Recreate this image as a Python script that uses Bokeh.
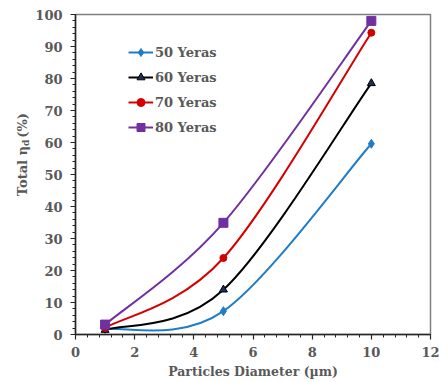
from bokeh.plotting import figure
from bokeh.layouts import row
from bokeh.models import Range1d, ColumnDataSource, Legend, LegendItem, FixedTicker
from bokeh.core.properties import value
from bokeh.embed import file_html
from bokeh.resources import INLINE

# ---- data ----
diameters = [1, 5, 10]
eff_50 = [1.7, 7.3, 59.6]
eff_60 = [1.4, 14.0, 78.5]
eff_70 = [2.1, 23.9, 94.3]
eff_80 = [3.1, 34.9, 98.0]
series_names = ["50 Yeras", "60 Yeras", "70 Yeras", "80 Yeras"]
x_ticks = [0, 2, 4, 6, 8, 10, 12]
y_ticks = [0, 10, 20, 30, 40, 50, 60, 70, 80, 90, 100]
x_label = "Particles Diameter (µm)"
y_label_parts = ["Total η", "d", "(%)"]

# ---- styling ----
FONT = "DejaVu Serif"
TXT = "#595959"
line_colors = ["#1f7dc8", "#000000", "#d40000", "#7030a0"]
fill_colors = ["#1f7dc8", "#1f2d5a", "#d40000", "#7030a0"]
markers = ["diamond", "triangle", "circle", "square"]
msizes = [9, 8, 7, 9]

W, H = 439, 382
LW = 31  # width of the side panel holding the y-axis title
# frame in page pixels
FL, FR, FT, FB = 75, 430, 14, 334
X0, X1, Y0, Y1 = 0, 12, 0, 100

p = figure(width=W - LW, height=H, output_backend="svg", toolbar_location=None,
           x_range=Range1d(X0, X1), y_range=Range1d(Y0, Y1),
           min_border_left=FL - LW, min_border_right=W - FR,
           min_border_top=FT, min_border_bottom=H - FB)
p.xgrid.visible = False
p.ygrid.visible = False
p.outline_line_color = "#7f7f7f"
p.outline_line_width = 1.5
p.background_fill_color = "white"
p.border_fill_color = "white"

for ax, ticks in ((p.xaxis, x_ticks), (p.yaxis, y_ticks)):
    step = ticks[1] - ticks[0]
    ax.ticker = FixedTicker(ticks=ticks,
                            minor_ticks=[ticks[0] + k * step / 5
                                         for k in range(0, 5 * (len(ticks) - 1) + 1)])
    ax.axis_line_color = "#262626"
    ax.axis_line_width = 1.5
    ax.major_tick_line_color = "#262626"
    ax.minor_tick_line_color = "#262626"
    ax.major_tick_line_width = 1.2
    ax.major_tick_in = 0
    ax.major_tick_out = 5
    ax.minor_tick_in = 0
    ax.minor_tick_out = 3
    ax.major_label_text_font = FONT
    ax.major_label_text_font_style = "bold"
    ax.major_label_text_font_size = "13px"
    ax.major_label_text_color = TXT
p.yaxis.major_label_standoff = 8
p.xaxis.major_label_standoff = 7

p.xaxis.axis_label = x_label
p.xaxis.axis_label_text_font = FONT
p.xaxis.axis_label_text_font_style = "bold"
p.xaxis.axis_label_text_font_size = "12.5px"
p.xaxis.axis_label_text_color = TXT
p.xaxis.axis_label_standoff = 4


def bezier_segments(xs, ys, t=1.0 / 6.0):
    n = len(xs)
    d = dict(x0=[], y0=[], x1=[], y1=[], cx0=[], cy0=[], cx1=[], cy1=[])
    for i in range(n - 1):
        xp, yp = (xs[i - 1], ys[i - 1]) if i > 0 else (xs[i], ys[i])
        xn, yn = (xs[i + 2], ys[i + 2]) if i + 2 < n else (xs[i + 1], ys[i + 1])
        d["x0"].append(xs[i]); d["y0"].append(ys[i])
        d["x1"].append(xs[i + 1]); d["y1"].append(ys[i + 1])
        d["cx0"].append(xs[i] + (xs[i + 1] - xp) * t)
        d["cy0"].append(ys[i] + (ys[i + 1] - yp) * t)
        d["cx1"].append(xs[i + 1] - (xn - xs[i]) * t)
        d["cy1"].append(ys[i + 1] - (yn - ys[i]) * t)
    return ColumnDataSource(d)


items = []
for name, ys, lc, fc, mk, ms in zip(series_names, [eff_50, eff_60, eff_70, eff_80],
                                    line_colors, fill_colors, markers, msizes):
    src = bezier_segments(diameters, ys)
    rb = p.bezier(x0="x0", y0="y0", x1="x1", y1="y1", cx0="cx0", cy0="cy0",
                  cx1="cx1", cy1="cy1", source=src, line_color=lc, line_width=2)
    rs = p.scatter(diameters, ys, marker=mk, size=ms, fill_color=fc, line_color=lc,
                   line_width=1)
    items.append(LegendItem(label=name, renderers=[rb, rs]))

legend = Legend(items=items, location=(53, 197), padding=0, margin=0,
                spacing=5, glyph_width=25, glyph_height=20, label_height=20,
                label_standoff=2, border_line_alpha=0, background_fill_alpha=0,
                label_text_font=FONT, label_text_font_style="bold",
                label_text_font_size="13px", label_text_color=TXT)
p.add_layout(legend, "center")

# ---- side panel with the y-axis title "Total η_d (%)" ----
q = figure(width=LW, height=H, output_backend="svg", toolbar_location=None,
           x_range=Range1d(0, LW), y_range=Range1d(0, H),
           min_border=0, x_axis_location=None, y_axis_location=None)
q.xgrid.visible = False
q.ygrid.visible = False
q.outline_line_color = None
q.background_fill_color = "white"
q.border_fill_color = "white"
txt = dict(text_font=value(FONT), text_font_style="bold", text_color=TXT,
           angle=1.5708, text_baseline="middle")
q.text(x=[22], y=[H - 157], text=[y_label_parts[0]], text_align="right",
       text_font_size="13px", **txt)
q.text(x=[25.5], y=[H - 157], text=[y_label_parts[1]], text_align="left",
       text_font_size="9px", **txt)
q.text(x=[22], y=[H - 147], text=[y_label_parts[2]], text_align="left",
       text_font_size="13px", **txt)

layout = row(q, p, spacing=0)
open("out.html", "w").write(file_html(layout, INLINE))
